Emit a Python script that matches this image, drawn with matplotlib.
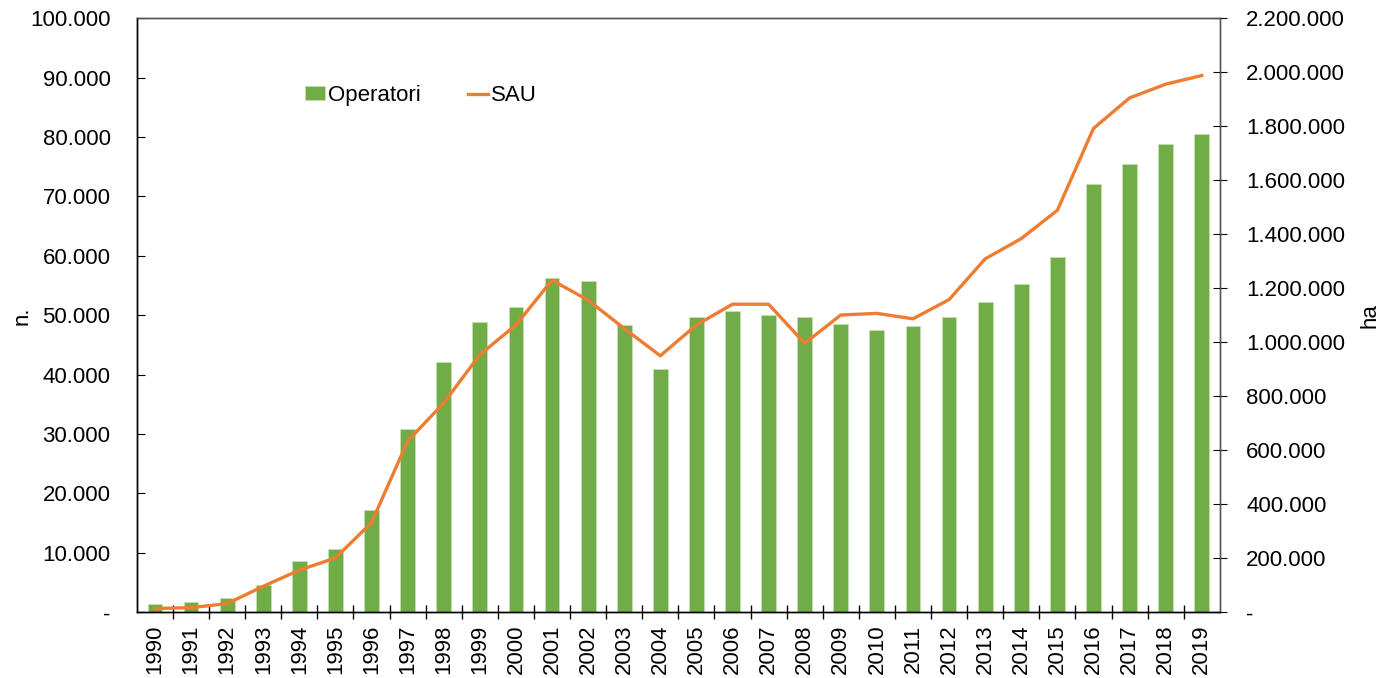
import matplotlib

matplotlib.use("Agg")
import matplotlib.pyplot as plt
from matplotlib.ticker import FuncFormatter, FixedLocator, MultipleLocator
import numpy as np

plt.rcParams["font.family"] = ["Liberation Sans", "DejaVu Sans"]

years = list(range(1990, 2020))
operatori = [1470, 1800, 2480, 4550, 8640, 10610, 17290, 30770, 42100, 48950,
             51360, 56240, 55740, 48280, 40870, 49730, 50700, 50070, 49630, 48500,
             47490, 48160, 49630, 52200, 55260, 59780, 72020, 75490, 78800, 80440]
sau_ha = [13700, 17000, 32000, 96000, 156000, 201000, 332000, 634000, 775000, 954000,
          1064000, 1230000, 1156000, 1051000, 950000, 1064000, 1141000, 1141000, 996000, 1101000,
          1107000, 1087000, 1158000, 1309000, 1384000, 1489000, 1792000, 1905000, 1956000, 1988000]

GREEN = "#70AD47"
ORANGE = "#ED7D31"
FS = 16


def thousands(v, _pos):
    if v == 0:
        return "-"
    return f"{v:,.0f}".replace(",", ".")


fig = plt.figure(figsize=(13.83, 6.78), dpi=100)
ax = fig.add_axes([0.099, 0.097, 0.783, 0.876])
ax2 = ax.twinx()

x = np.arange(len(years))
ax.bar(x, operatori, width=0.41, color=GREEN, edgecolor="#C5E0B4", linewidth=0.6,
       label="Operatori", zorder=2)
ax2.plot(x, sau_ha, color=ORANGE, linewidth=2.4, label="SAU", zorder=3)

ax.set_xlim(-0.5, len(years) - 0.5)
ax.set_ylim(0, 100000)
ax2.set_ylim(0, 2200000)

ax.yaxis.set_major_locator(MultipleLocator(10000))
ax2.yaxis.set_major_locator(MultipleLocator(200000))
ax.yaxis.set_major_formatter(FuncFormatter(thousands))
ax2.yaxis.set_major_formatter(FuncFormatter(thousands))

ax.set_xticks(x)
ax.set_xticklabels([str(y) for y in years], rotation=90)
ax.xaxis.set_minor_locator(FixedLocator(np.arange(0.5, len(years) - 0.5, 1)))
ax.tick_params(axis="x", which="major", length=0, pad=9, labelsize=FS)
ax.tick_params(axis="x", which="minor", length=10, direction="inout", width=1)
ax.tick_params(axis="y", direction="in", length=6, labelsize=FS, pad=19)
ax2.tick_params(axis="y", direction="inout", length=10, labelsize=FS, pad=14)

ax.set_ylabel("n.", fontsize=FS, labelpad=-2)
ax2.set_ylabel("ha", fontsize=FS, labelpad=10)

for a in (ax, ax2):
    for s in a.spines.values():
        s.set_color("#555555")
        s.set_linewidth(1)
    a.spines["bottom"].set_color("black")
    a.spines["left"].set_color("black")

h1, l1 = ax.get_legend_handles_labels()
h2, l2 = ax2.get_legend_handles_labels()
ax.legend(h1 + h2, l1 + l2, loc="center left", bbox_to_anchor=(0.155, 0.870),
          ncol=2, frameon=False, fontsize=FS, handlelength=0.9, handleheight=0.6,
          handletextpad=0.15, columnspacing=2.1, borderpad=0, borderaxespad=0)

fig.savefig("out.png", dpi=100)
